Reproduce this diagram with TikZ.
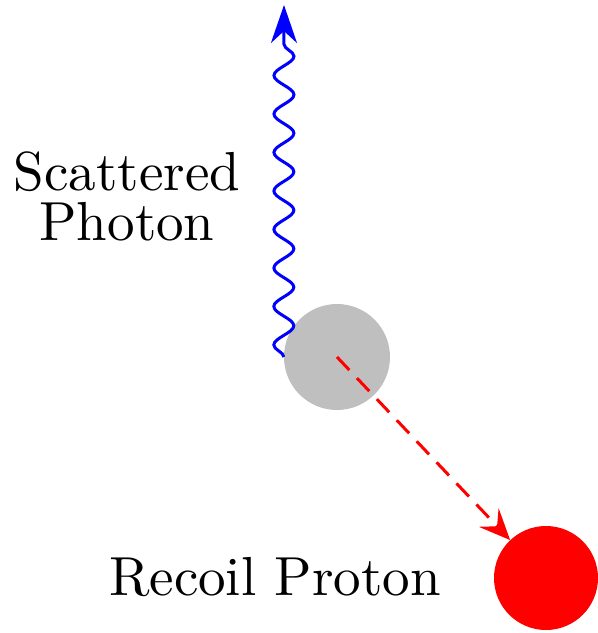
\documentclass[tikz,border=0pt]{standalone}
\usepackage{fontspec}
\setmainfont{lmroman10-regular.otf}
\usetikzlibrary{decorations.pathmorphing,arrows.meta}
\begin{document}
\begin{tikzpicture}[x=1pt,y=-1pt,
  lbl/.style={font=\fontsize{55}{50}\selectfont, inner sep=0pt, align=center},
  blob/.style={circle, inner sep=0pt, minimum size=#1},
  photon/.style={blue, line width=3pt, decorate,
    decoration={snake, segment length=38.5pt, amplitude=10pt, post length=24pt},
    -{Stealth[length=38pt, width=26pt, inset=12pt]}},
  proton/.style={red, line width=3pt, dash pattern=on 18pt off 11pt,
    -{Stealth[length=31pt, width=27pt, inset=12pt]}}]
\useasboundingbox (0,0) rectangle (598,633);
\node[blob=106pt, fill=gray!50] (g) at (337,357) {};
\node[blob=104pt, fill=red] (r) at (546,578) {};
\coordinate (top) at (284,5);
\draw[photon] (g.west) -- (top);
\draw[proton] (g.center) -- (r);
\node[lbl, anchor=base] (sp) at (127,240) {Scattered\\Photon};
\node[lbl, anchor=base] (rp) at (275,595) {Recoil Proton};
\end{tikzpicture}
\end{document}
